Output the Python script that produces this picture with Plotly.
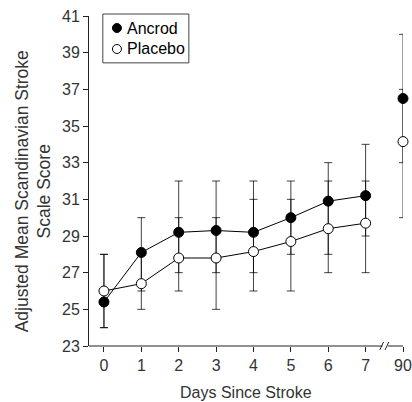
import plotly.graph_objects as go

days = ["0", "1", "2", "3", "4", "5", "6", "7", "90"]
ancrod_mean = [25.4, 28.1, 29.2, 29.3, 29.2, 30.0, 30.9, 31.2, 36.5]
ancrod_low = [24, 26, 27, 27, 27, 28, 28, 29, 33]
ancrod_high = [28, 30, 32, 32, 32, 32, 33, 34, 40]
placebo_mean = [26.0, 26.4, 27.8, 27.8, 28.15, 28.7, 29.4, 29.7, 34.15]
placebo_low = [24, 25, 26, 25, 26, 26, 27, 27, 30]
placebo_high = [28, 28, 30, 30, 31, 31, 32, 32, 37]
y_ticks = [23, 25, 27, 29, 31, 33, 35, 37, 39, 41]
series_names = ["Ancrod", "Placebo"]
series_fills = ["black", "white"]

FONT = "Liberation Sans, Arial, sans-serif"
TXT = "#333333"
AX = "#222222"
ERRC = "rgba(0,0,0,0.75)"

def err(mean, low, high):
    return dict(type="data", symmetric=False,
                array=[h - m for m, h in zip(mean, high)],
                arrayminus=[m - l for m, l in zip(mean, low)],
                color=ERRC, thickness=1, width=4)

fig = go.Figure()

def add_series(mean, low, high, fill, name):
    n = len(days) - 1
    fig.add_trace(go.Scatter(
        x=days[:n], y=mean[:n], mode="lines+markers", name=name,
        line=dict(color="black", width=1),
        marker=dict(size=10, color=fill, line=dict(color="black", width=1)),
        error_y=err(mean[:n], low[:n], high[:n]),
        showlegend=False, cliponaxis=False))
    fig.add_trace(go.Scatter(
        x=days[n:], y=mean[n:], mode="markers", name=name,
        marker=dict(size=10, color=fill, line=dict(color="black", width=1)),
        error_y=err(mean[n:], low[n:], high[n:]),
        showlegend=False, cliponaxis=False))

add_series(ancrod_mean, ancrod_low, ancrod_high, series_fills[0], series_names[0])
add_series(placebo_mean, placebo_low, placebo_high, series_fills[1], series_names[1])

# x axis line with a break before day 90
shapes = [
    dict(type="line", xref="x", yref="paper", x0=-0.4, x1=7.45, y0=0, y1=0,
         line=dict(color=AX, width=1)),
    dict(type="line", xref="x", yref="paper", x0=7.6, x1=8.0, y0=0, y1=0,
         line=dict(color=AX, width=1)),
    dict(type="line", xref="x", yref="paper", x0=7.38, x1=7.48, y0=-0.012, y1=0.012,
         line=dict(color=AX, width=1)),
    dict(type="line", xref="x", yref="paper", x0=7.52, x1=7.62, y0=-0.012, y1=0.012,
         line=dict(color=AX, width=1)),
    # legend box
    dict(type="rect", xref="paper", yref="paper", x0=0.044, x1=0.318,
         y0=0.858, y1=1.006, line=dict(color="#444444", width=1),
         fillcolor="white", layer="above"),
]
annotations = []
leg_y = [0.9636, 0.90]
for name, fill, ly in zip(series_names, series_fills, leg_y):
    shapes.append(dict(type="circle", xref="paper", yref="paper",
                       xsizemode="pixel", ysizemode="pixel",
                       xanchor=0.089, yanchor=ly, x0=-4.5, x1=4.5, y0=-4.5, y1=4.5,
                       fillcolor=fill, line=dict(color="black", width=1),
                       layer="above"))
    annotations.append(dict(text=name, xref="paper", yref="paper", x=0.116, y=ly,
                            xanchor="left", yanchor="middle", showarrow=False,
                            font=dict(size=16, color="black")))

annotations.append(dict(text="Adjusted Mean Scandinavian Stroke<br>Scale Score",
                        xref="paper", yref="paper", x=-0.177, y=0.47,
                        xanchor="center", yanchor="middle", textangle=-90,
                        showarrow=False, font=dict(size=17.5, color=TXT)))
annotations.append(dict(text="Days Since Stroke", xref="paper", yref="paper",
                        x=0.5, y=0, yshift=-46, xanchor="center", yanchor="middle",
                        showarrow=False, font=dict(size=16, color=TXT)))

fig.update_layout(
    width=412, height=402,
    margin=dict(l=89, r=9, t=16, b=56, autoexpand=False),
    paper_bgcolor="white", plot_bgcolor="white",
    font=dict(family=FONT, size=16, color=TXT),
    shapes=shapes, annotations=annotations,
    showlegend=False,
)

fig.update_xaxes(type="category", categoryorder="array", categoryarray=days,
                 range=[-0.4, 8.0], showline=False, showgrid=False, zeroline=False,
                 automargin=False,
                 ticks="outside", ticklen=5, tickcolor=AX, tickwidth=1,
                 tickfont=dict(size=16, color=TXT))
fig.update_yaxes(range=[23, 41], tickvals=y_ticks, showline=True, linecolor=AX,
                 linewidth=1, showgrid=False, zeroline=False, automargin=False,
                 ticks="outside", ticklen=5, tickcolor=AX, tickwidth=1,
                 tickfont=dict(size=16, color=TXT))

fig.write_html("out.html",
               config={"displayModeBar": False},
               post_script="document.body.style.margin='0';"
                           "document.body.style.overflow='hidden';")
